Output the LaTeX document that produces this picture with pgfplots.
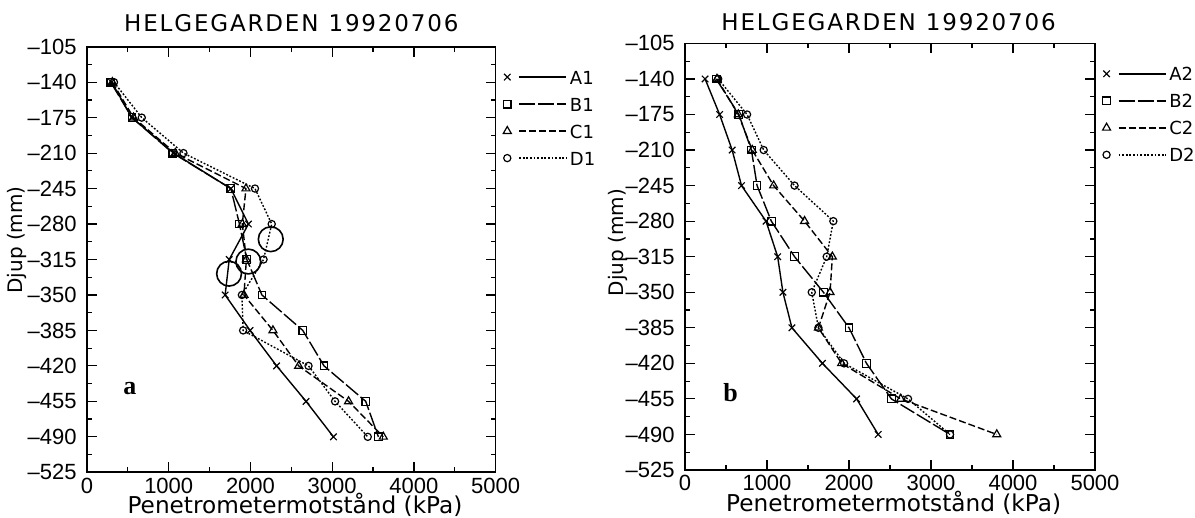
\documentclass[border=0pt]{standalone}
\usepackage{fontspec}
\setmainfont{Liberation Sans}
\newfontfamily\widefont{DejaVu Sans}
\newfontfamily\titlefont{DejaVu Sans}[LetterSpace=8]
\newfontfamily\panelfont{Liberation Serif}
\usepackage{pgfplots}
\pgfplotsset{compat=1.18}

\newcommand{\ttl}{{\titlefont\fontsize{11.5}{12}\selectfont HELGEGARDEN\hspace{5pt}19920706}}
\newcommand{\xlab}{{\widefont\fontsize{11.6}{12}\selectfont Penetrometermotstånd (kPa)}}
\newcommand{\ylab}{{\widefont\fontsize{10}{10}\selectfont Djup (mm)}}

\pgfplotsset{
  helge/.style={
    scale only axis, clip mode=individual,
    xmin=0, xmax=5000, ymin=-525, ymax=-105,
    xtick={0,1000,...,5000},
    xticklabels={0,1000,2000,3000,4000,5000},
    ytick={-525,-490,...,-105},
    yticklabels={–525,–490,–455,–420,–385,–350,–315,–280,–245,–210,–175,–140,–105},
    minor x tick num=1, minor y tick num=1,
    tick align=inside,
    major tick length=5pt, minor tick length=2.5pt,
    axis line style={line width=0.8pt},
    every tick/.style={black, line width=0.6pt},
    ticklabel style={font=\fontsize{11}{11}\selectfont, inner sep=0pt},
    xticklabel style={yshift=-2.5pt},
    yticklabel style={xshift=-5pt},
    xlabel style={inner sep=0pt},
    ylabel style={inner sep=0pt},
    legend style={at={(axis description cs:1,1)}, anchor=north west,
      xshift=3.6pt, yshift=-10pt, draw=none, fill=none, inner sep=0pt,
      font=\widefont\fontsize{9}{10}\selectfont, row sep=3.5pt,
      nodes={inner sep=1.5pt, text height=7pt, text depth=0pt},
      cells={anchor=west}},
    legend image code/.code={
      \draw[##1, mark=none] (6pt,0pt) -- (29.5pt,0pt);
      \draw[##1, solid] plot coordinates {(0pt,0pt)};
    },
    every axis plot/.append style={black, line width=0.7pt,
      mark options={solid, line width=0.6pt}},
  },
  serA/.style={solid, mark=x, mark size=2.3pt},
  serB/.style={dash pattern=on 8pt off 1.5pt, mark=square, mark size=1.9pt},
  serC/.style={dash pattern=on 3.5pt off 1.5pt, mark=triangle, mark size=2.3pt},
  serD/.style={dash pattern=on 0.9pt off 0.9pt, mark=o, mark size=1.8pt},
}

\begin{document}
\begin{tikzpicture}
\path[use as bounding box] (0pt,0pt) rectangle (597.5pt,259pt);

% panel a
\begin{axis}[helge,
  at={(43.5pt,22.85pt)}, anchor=south west,
  width=204.35pt, height=212.8pt,
  xlabel={\xlab},
  ylabel={\ylab},
  xlabel style={at={(axis description cs:0.509,0)}, anchor=base, yshift=-20.6pt},
  ylabel style={at={(axis description cs:-0.171,0.546)}, anchor=center},
]
\addplot[serA] coordinates {(300,-140)(550,-175)(1060,-210)(1760,-245)(1975,-280)(1740,-315)(1690,-350)(1995,-385)(2320,-420)(2680,-455)(3015,-490)};
\addplot[serB] coordinates {(290,-140)(550,-175)(1050,-210)(1760,-245)(1865,-280)(1955,-315)(2140,-350)(2640,-385)(2900,-420)(3410,-455)(3565,-490)};
\addplot[serC] coordinates {(310,-140)(570,-175)(1080,-210)(1945,-245)(1900,-280)(1950,-315)(1920,-350)(2275,-385)(2590,-420)(3200,-455)(3625,-490)};
\addplot[serD] coordinates {(330,-140)(670,-175)(1180,-210)(2055,-245)(2260,-280)(2160,-315)(1895,-350)(1910,-385)(2710,-420)(3035,-455)(3435,-490)};
\addplot[only marks, mark=o, mark size=6.2pt, forget plot, mark options={line width=0.8pt}] coordinates {(2248,-295)(1974,-317)(1738,-329)};
\legend{A1,B1,C1,D1}
\node[font=\panelfont\bfseries\fontsize{13}{13}\selectfont] at (axis cs:526,-442) {a};
\node[anchor=base west, inner sep=0pt, yshift=7.5pt] at (axis description cs:0.09,1) {\ttl};
\end{axis}

% panel b
\begin{axis}[helge,
  at={(342.5pt,24pt)}, anchor=south west,
  width=205pt, height=213.3pt,
  xlabel={\xlab},
  ylabel={\ylab},
  xlabel style={at={(axis description cs:0.509,0)}, anchor=base, yshift=-20.8pt},
  ylabel style={at={(axis description cs:-0.163,0.533)}, anchor=center},
]
\addplot[serA] coordinates {(245,-140)(422,-175)(575,-210)(689,-245)(988,-280)(1130,-315)(1194,-350)(1304,-385)(1676,-420)(2093,-455)(2356,-490)};
\addplot[serB] coordinates {(380,-140)(657,-175)(810,-210)(879,-245)(1053,-280)(1336,-315)(1688,-350)(2000,-385)(2213,-420)(2517,-455)(3232,-490)};
\addplot[serC] coordinates {(390,-140)(650,-175)(820,-210)(1081,-245)(1458,-280)(1797,-315)(1769,-350)(1627,-385)(1910,-420)(2631,-455)(3802,-490)};
\addplot[serD] coordinates {(405,-140)(757,-175)(960,-210)(1336,-245)(1809,-280)(1728,-315)(1546,-350)(1627,-385)(1940,-420)(2720,-455)(3232,-490)};
\legend{A2,B2,C2,D2}
\node[font=\panelfont\bfseries\fontsize{13}{13}\selectfont] at (axis cs:555,-449) {b};
\node[anchor=base west, inner sep=0pt, yshift=6.7pt] at (axis description cs:0.088,1) {\ttl};
\end{axis}
\end{tikzpicture}
\end{document}
